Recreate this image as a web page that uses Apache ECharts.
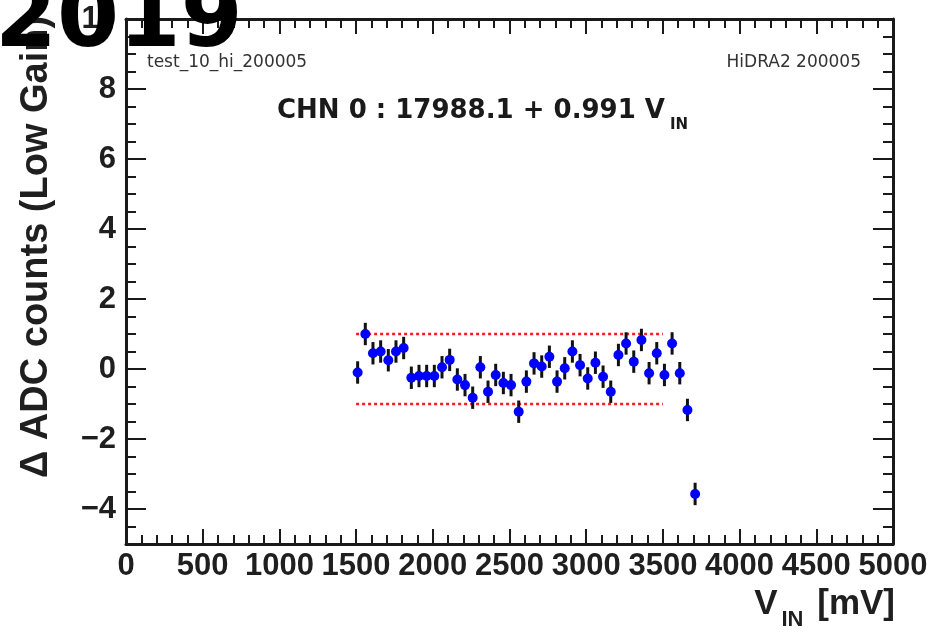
<!DOCTYPE html>
<html>
<head>
<meta charset="utf-8">
<script src="https://cdn.jsdelivr.net/npm/echarts@6/dist/echarts.min.js"></script>
<style>html,body{margin:0;padding:0;background:#fff;}#c{width:934px;height:637px;}</style>
</head>
<body>
<div id="c"></div>
<script>
// ---- data ----
const vin = [1510,1560,1610,1660,1710,1760,1810,1860,1910,1960,2010,2060,2110,2160,2210,2260,2310,2360,2410,2460,2510,2560,2610,2660,2710,2760,2810,2860,2910,2960,3010,3060,3110,3160,3210,3260,3310,3360,3410,3460,3510,3560,3610,3660,3710];
const dAdc = [-0.10,1.00,0.45,0.50,0.25,0.50,0.60,-0.25,-0.20,-0.20,-0.20,0.05,0.26,-0.30,-0.46,-0.82,0.05,-0.65,-0.17,-0.40,-0.46,-1.22,-0.36,0.16,0.07,0.35,-0.36,0.02,0.50,0.11,-0.27,0.18,-0.22,-0.65,0.40,0.73,0.21,0.83,-0.12,0.45,-0.17,0.73,-0.12,-1.17,-3.57];
const dAdcErr = [0.32,0.32,0.32,0.32,0.32,0.32,0.32,0.32,0.32,0.32,0.32,0.32,0.32,0.32,0.32,0.32,0.32,0.32,0.32,0.32,0.32,0.32,0.32,0.32,0.32,0.32,0.32,0.32,0.32,0.32,0.32,0.32,0.32,0.32,0.32,0.32,0.32,0.32,0.32,0.32,0.32,0.32,0.32,0.32,0.32];
const bandX = [1500, 3500];
const bandUpper = [1, 1];
const bandLower = [-1, -1];
const xTickLabels = ['0','500','1000','1500','2000','2500','3000','3500','4000','4500','5000'];

const chart = echarts.init(document.getElementById('c'), null, {renderer:'canvas'});
const pts = vin.map((x,i)=>[x, dAdc[i], dAdcErr[i]]);
const axisCol = '#1a1a1a';
const labelFont = {fontFamily:'Liberation Sans', fontWeight:'bold', fontSize:31, color:'#1f1f1f'};

function yAxisCfg(pos, major, showLabel, showLine){
  const c = {
    type:'value', position:pos, min:-5, max:10, offset:0,
    axisLine:{show:showLine, onZero:false, lineStyle:{color:axisCol, width:3}},
    splitLine:{show:false},
    axisTick:{show:true, inside:true, length: major?20:10, lineStyle:{color:axisCol, width:2}},
    axisLabel:{show:showLabel, margin:10, ...labelFont,
      formatter: v => (v===-5 ? '' : (v<0 ? '\u2212'+Math.abs(v) : String(v)))}
  };
  if (major) c.splitNumber = 7; else c.interval = 0.5;
  return c;
}
function xAxisCfg(pos, showLabel){
  return {
    type:'value', position:pos, min:0, max:5000, interval:500,
    axisLine:{show:true, onZero:false, lineStyle:{color:axisCol, width:3}},
    splitLine:{show:false},
    axisTick:{show:true, inside:true, length:15, lineStyle:{color:axisCol, width:2}},
    minorTick:{show:true, splitNumber:5, length:9, lineStyle:{color:axisCol, width:2}},
    axisLabel:{show:showLabel, margin:7, ...labelFont,
      formatter: v => xTickLabels[Math.round(v/500)]}
  };
}

const option = {
  animation:false,
  backgroundColor:'#ffffff',
  grid:{left:126, right:41, top:19, bottom:93, containLabel:false},
  xAxis:[xAxisCfg('bottom', true), xAxisCfg('top', false)],
  yAxis:[yAxisCfg('left', true, true, true), yAxisCfg('left', false, false, false),
         yAxisCfg('right', true, false, true), yAxisCfg('right', false, false, false)],
  series:[
    {type:'line', xAxisIndex:0, yAxisIndex:0, data: bandX.map((x,i)=>[x, bandUpper[i]]),
     symbol:'none', lineStyle:{color:'#ff1a1a', width:2.5, type:[3,3]}, z:1},
    {type:'line', xAxisIndex:0, yAxisIndex:0, data: bandX.map((x,i)=>[x, bandLower[i]]),
     symbol:'none', lineStyle:{color:'#ff1a1a', width:2.5, type:[3,3]}, z:1},
    {type:'custom', xAxisIndex:0, yAxisIndex:0, data: pts, z:2,
     renderItem:(params, api)=>{
       const x = api.value(0), y = api.value(1), e = api.value(2);
       const a = api.coord([x, y-e]), b = api.coord([x, y+e]);
       return {type:'line', shape:{x1:a[0], y1:a[1], x2:b[0], y2:b[1]},
               style:{stroke:'#111111', lineWidth:3}};
     }},
    {type:'scatter', xAxisIndex:0, yAxisIndex:0, data: pts.map(p=>[p[0],p[1]]),
     symbol:'circle', symbolSize:10, itemStyle:{color:'#0000ff', opacity:1}, z:3}
  ],
  graphic:[
    {type:'text', left:147, top:54, z:10, style:{text:'test_10_hi_200005', font:'17px "DejaVu Sans"', fill:'#333'}},
    {type:'text', right:73, top:54, z:10, style:{text:'HiDRA2 200005', font:'17px "DejaVu Sans"', fill:'#333'}},
    {type:'text', x:277, y:111, z:10, style:{
      text:'{m|CHN 0 : 17988.1 + 0.991 V}{s|IN}', verticalAlign:'middle', align:'left',
      rich:{m:{font:'bold 26px "DejaVu Sans"', fill:'#1a1a1a'},
            s:{font:'bold 15px "DejaVu Sans"', fill:'#1a1a1a', padding:[28,0,0,5]}}}},
    {type:'text', x:37, y:478, rotation:Math.PI/2, z:10, style:{
      text:'\u0394 ADC counts (Low Gain)', font:'bold 38px "Liberation Sans"', fill:'#1f1f1f',
      align:'left', verticalAlign:'middle'}},
    {type:'text', x:895, y:604, z:10, style:{
      text:'{m|V}{s|IN}{m| [mV]}', verticalAlign:'middle', align:'right',
      rich:{m:{font:'bold 35px "Liberation Sans"', fill:'#1f1f1f'},
            s:{font:'bold 22px "Liberation Sans"', fill:'#1f1f1f', padding:[32,4,0,4]}}}},
    {type:'text', x:-5, y:23, z:20, style:{text:'2019', font:'bold 89px "DejaVu Sans"', fill:'#000',
      align:'left', verticalAlign:'middle'}}
  ]
};
chart.setOption(option);
</script>
</body>
</html>
